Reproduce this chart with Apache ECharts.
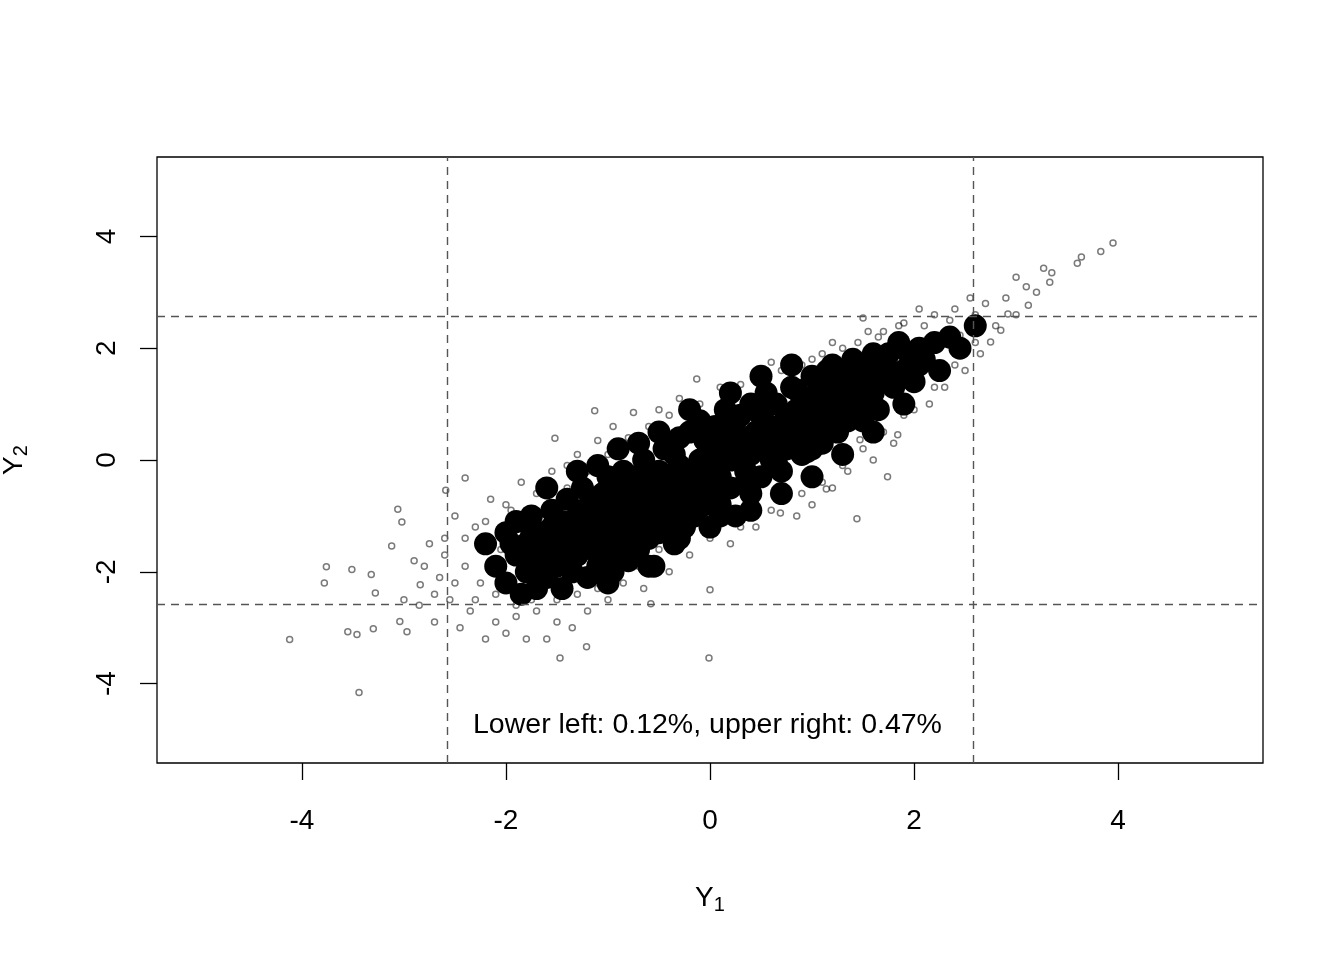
<!DOCTYPE html>
<html><head><meta charset="utf-8">
<script src="https://cdn.jsdelivr.net/npm/echarts@6/dist/echarts.min.js"></script>
<style>html,body{margin:0;padding:0;background:#fff}#c{width:1344px;height:960px}</style>
</head><body><div id="c"></div>
<script>
const xTicks=[-4,-2,0,2,4];
const yTicks=[-4,-2,0,2,4];
const cutoff=2.576;
const annotation="Lower left: 0.12%, upper right: 0.47%";
const outliers=[[-4.12,-3.21],[-3.44,-4.16],[-3.76,-1.91],[-3.78,-2.2],[-3.51,-1.96],[-3.32,-2.05],[-3.55,-3.07],[-3.46,-3.12],[-3.3,-3.02],[-3.28,-2.38],[-3.12,-1.54],[-3.06,-0.88],[-3.02,-1.11],[-2.97,-3.07],[-3.04,-2.89],[-3.0,-2.5],[-2.84,-2.23],[-2.59,-0.54],[-2.4,-0.32],[-0.01,-3.54],[-1.47,-3.54],[-1.21,-3.34],[1.44,-1.05],[0,-2.32],[-0.58,-2.57],[3.95,3.88],[3.83,3.73],[3.64,3.63],[3.6,3.52],[3.33,3.18],[3.27,3.43],[3.0,3.27],[3.12,2.77],[2.92,2.61],[2.75,2.11],[2.85,2.32],[2.45,2.23],[2.13,1.7],[1.84,0.45],[1.74,-0.3],[1.5,2.54],[0.6,1.75],[-0.13,1.45],[-1.13,0.88],[-1.52,0.39],[1.47,0.36],[1.14,-0.52],[0.69,-0.95],
[-2.9,-1.8],[-2.85,-2.6],[-2.75,-1.5],[-2.7,-2.9],[-2.65,-2.1],[-2.6,-1.4],[-2.55,-2.5],[-2.5,-1.0],[-2.45,-3.0],[-2.4,-1.9],[-2.35,-2.7],[-2.3,-1.2],[-2.25,-2.2],[-2.2,-3.2],[-2.15,-0.7],[-2.1,-2.9],[-2.05,-1.6],[-2.0,-3.1],[-1.95,-0.9],[-1.9,-2.8],[-1.85,-0.4],[-1.8,-3.2],[-1.75,-2.5],[-1.7,-0.6],[-1.6,-3.2],[-1.55,-0.2],[-1.5,-2.9],[-1.4,-0.1],[-1.35,-3.0],[-1.3,0.1],[-1.2,-2.7],[-1.1,0.35],[-1.0,-2.5],[-0.95,0.6],[-0.85,-2.2],[-0.75,0.85],[-0.65,-2.3],[-0.5,0.9],[-0.4,-2.0],[-0.3,1.1],[-0.2,-1.7],[0.1,1.3],[0.2,-1.5],[0.3,1.35],[0.45,-1.2],[0.55,1.6],[0.75,1.4],[0.85,-1.0],[0.9,1.7],[1.0,-0.8],[1.1,1.9],[1.2,-0.5],[1.3,2.0],[1.35,-0.2],[1.55,2.3],[1.6,0.0],[1.7,2.3],[1.8,0.3],[1.9,2.45],[2.0,0.9],[2.05,2.7],[2.15,1.0],[2.2,2.6],[2.3,1.3],[2.4,2.7],[2.5,1.6],[2.55,2.9],[2.65,1.9],[2.7,2.8],[2.8,2.4],[2.9,2.9],[3.0,2.6],[3.1,3.1],[3.2,3.0],[3.35,3.35],
[-2.8,-1.9],[-2.7,-2.4],[-2.6,-1.7],[-2.5,-2.2],[-2.4,-1.4],[-2.3,-2.5],[-2.2,-1.1],[-2.1,-2.4],[-2.0,-0.8],[-1.9,-2.6],[-1.8,-0.9],[-1.7,-2.7],[-1.6,-0.8],[-1.5,-2.5],[-1.4,-0.5],[-1.3,-2.4],[-1.2,-0.2],[-1.1,-2.3],[-1.0,0.1],[-0.9,-2.0],[-0.8,0.4],[-0.7,-1.9],[-0.6,0.6],[-0.5,-1.6],[-0.4,0.8],[-0.3,-1.6],[-0.1,1.0],[0.0,-1.4],[0.2,1.1],[0.3,-1.2],[0.5,1.3],[0.6,-0.9],[0.7,1.6],[0.9,-0.6],[1.0,1.8],[1.1,-0.4],[1.2,2.1],[1.3,-0.1],[1.45,2.1],[1.5,0.2],[1.65,2.2],[1.7,0.5],[1.85,2.4],[1.9,0.8],[2.1,2.4],[2.2,1.3],[2.35,2.5],[2.4,1.7],[2.6,2.6],[2.6,2.1]];
const corePoints=[
[-2.2,-1.5],[-2.1,-1.9],[-2.0,-1.3],[-2.0,-2.2],[-1.9,-1.7],[-1.9,-1.1],[-1.85,-2.4],[-1.8,-1.5],[-1.8,-2.0],[-1.75,-1.0],[-1.7,-1.8],[-1.7,-2.3],[-1.65,-1.3],[-1.6,-1.6],[-1.6,-2.1],[-1.55,-0.9],[-1.5,-1.4],[-1.5,-1.9],[-1.45,-1.1],[-1.45,-2.3],[-1.4,-1.6],[-1.4,-0.7],[-1.35,-1.3],[-1.35,-2.0],[-1.3,-1.0],[-1.3,-1.7],[-1.25,-0.5],[-1.25,-1.4],[-1.2,-1.2],[-1.2,-2.1],[-1.15,-0.8],[-1.15,-1.6],[-1.1,-1.1],[-1.1,-1.9],[-1.05,-0.6],[-1.05,-1.4],[-1.0,-0.9],[-1.0,-1.7],[-1.0,-0.3],[-0.95,-1.2],[-0.95,-2.0],[-0.9,-0.7],[-0.9,-1.5],[-0.85,-1.0],[-0.85,-0.2],[-0.8,-1.3],[-0.8,-0.6],[-0.8,-1.8],[-0.75,-0.9],[-0.75,-0.3],[-0.7,-1.2],[-0.7,-1.6],[-0.7,-0.5],[-0.65,-0.8],[-0.65,0.0],[-0.6,-1.0],[-0.6,-1.4],[-0.6,-0.4],[-0.55,-0.7],[-0.55,-1.9],[-0.5,-0.9],[-0.5,-0.2],[-0.5,-1.3],[-0.45,-0.5],[-0.45,0.2],[-0.4,-0.8],[-0.4,-1.1],[-0.4,-0.3],[-0.35,-0.6],[-0.35,-1.5],[-0.3,-0.1],[-0.3,-0.9],[-0.3,0.4],[-0.25,-0.4],[-0.25,-1.2],[-0.2,-0.2],[-0.2,-0.7],[-0.2,0.5],[-0.15,-0.5],[-0.15,-1.0],[-0.1,0.0],[-0.1,-0.4],[-0.1,0.7],[-0.05,-0.8],[-0.05,-0.2],[0.0,0.2],[0.0,-0.5],[0.0,-1.2],[0.05,0.0],[0.05,0.6],[0.1,-0.3],[0.1,-0.8],[0.15,0.3],[0.15,0.9],[0.2,0.0],[0.2,-0.5],[0.25,0.5],[0.25,-1.0],[0.3,0.2],[0.3,0.8],[0.35,-0.2],[0.35,0.4],[0.4,0.1],[0.4,1.0],[0.4,-0.6],[0.45,0.5],[0.5,0.2],[0.5,0.8],[0.5,-0.3],[0.55,0.4],[0.55,1.2],[0.6,0.0],[0.6,0.6],[0.65,0.3],[0.65,1.0],[0.7,0.5],[0.7,-0.2],[0.75,0.8],[0.75,0.2],[0.8,0.6],[0.8,1.3],[0.85,0.3],[0.85,0.9],[0.9,0.1],[0.9,0.7],[0.95,1.1],[0.95,0.4],[1.0,0.8],[1.0,1.5],[1.0,0.2],[1.05,0.6],[1.05,1.2],[1.1,0.9],[1.1,0.3],[1.15,1.4],[1.15,0.7],[1.2,1.0],[1.2,1.7],[1.25,0.5],[1.25,1.2],[1.3,0.9],[1.3,1.5],[1.35,0.7],[1.4,1.2],[1.4,1.8],[1.45,1.0],[1.5,1.4],[1.5,0.7],[1.55,1.7],[1.6,1.2],[1.6,1.9],[1.65,0.9],[1.7,1.5],[1.75,1.9],[1.8,1.3],[1.85,2.1],[1.9,1.6],[1.95,1.9],[2.0,1.4],[2.05,2.0],[2.1,1.8],[2.2,2.1],[2.25,1.6],[2.35,2.2],[2.45,2.0],[2.6,2.4],
[-1.6,-0.5],[-1.3,-0.2],[-1.1,-0.1],[-0.9,0.2],[-0.7,0.3],[-0.5,0.5],[-0.2,0.9],[0.2,1.2],[0.5,1.5],[0.8,1.7],[-1.0,-2.2],[-0.6,-1.9],[-0.3,-1.4],[0.1,-1.0],[0.4,-0.9],[0.7,-0.6],[1.0,-0.3],[1.3,0.1],[1.6,0.5],[1.9,1.0],[-1.95,-1.5],[-1.55,-1.2],[-1.25,-0.9],[-0.95,-0.45],[-0.65,-0.25],[-0.35,0.1],[-0.05,0.35],[0.25,0.7],[0.55,0.95],[0.85,1.25],[1.15,1.6],[1.45,1.5],[1.75,1.6],[2.05,1.7],
[-1.75,-1.35],[-1.45,-1.75],[-1.15,-1.3],[-0.85,-1.4],[-0.55,-1.05],[-0.25,-0.85],[0.05,-0.65],[0.35,-0.4],[0.65,-0.05],[0.95,0.15],[1.25,0.55],[1.55,0.95],[-1.65,-1.55],[-1.35,-1.15],[-1.05,-1.0],[-0.75,-0.75],[-0.45,-0.45],[-0.15,-0.15],[0.15,0.15],[0.45,0.45],[0.75,0.75],[1.05,1.05],[1.35,1.35],[1.65,1.65]
];
const allPoints=outliers.concat(corePoints);
const chart=echarts.init(document.getElementById('c'));
const F='Liberation Sans, Arial, sans-serif';
chart.setOption({
 animation:false,
 grid:{left:157,right:81,top:157,bottom:197,outerBoundsMode:'none',containLabel:false,show:true,borderColor:'#000',borderWidth:1.3,backgroundColor:'transparent'},
 xAxis:{type:'value',min:-5.42,max:5.42,splitLine:{show:false},
  axisLine:{show:false,onZero:false},
  axisTick:{show:true,length:17,inside:false,customValues:xTicks,lineStyle:{color:'#000',width:1.3}},
  axisLabel:{customValues:xTicks,margin:44,color:'#000',fontSize:28,fontFamily:F},
  name:'{a|Y}{s|1}',nameLocation:'middle',nameGap:118,
  nameTextStyle:{rich:{a:{fontSize:28,fontFamily:F,color:'#000'},s:{fontSize:20,fontFamily:F,color:'#000',padding:[14,0,0,0]}}}},
 yAxis:{type:'value',min:-5.42,max:5.42,splitLine:{show:false},
  axisLine:{show:false,onZero:false},
  axisTick:{show:true,length:17,customValues:yTicks,lineStyle:{color:'#000',width:1.3}},
  axisLabel:{customValues:yTicks,margin:36,rotate:90,color:'#000',fontSize:28,fontFamily:F},
  name:'{a|Y}{s|2}',nameLocation:'middle',nameGap:126,nameRotate:90,
  nameTextStyle:{rich:{a:{fontSize:28,fontFamily:F,color:'#000'},s:{fontSize:20,fontFamily:F,color:'#000',padding:[14,0,0,0]}}}},
 series:[{type:'scatter',data:allPoints,symbol:'circle',symbolSize:6,z:3,
   itemStyle:{color:'rgba(0,0,0,0)',borderColor:'rgba(0,0,0,0.65)',borderWidth:1.5},
   markLine:{silent:true,symbol:'none',label:{show:false},z:5,
     lineStyle:{type:[8,6],color:'#555',width:1.4},
     data:[{xAxis:-cutoff},{xAxis:cutoff},{yAxis:-cutoff},{yAxis:cutoff}]}},
  {type:'scatter',data:corePoints,symbolSize:23,itemStyle:{color:'#000',opacity:1},z:2}],
 graphic:[{type:'text',left:473,top:711,style:{text:annotation,fontSize:28.5,fontFamily:F,fill:'#000'}}]
});
</script></body></html>
